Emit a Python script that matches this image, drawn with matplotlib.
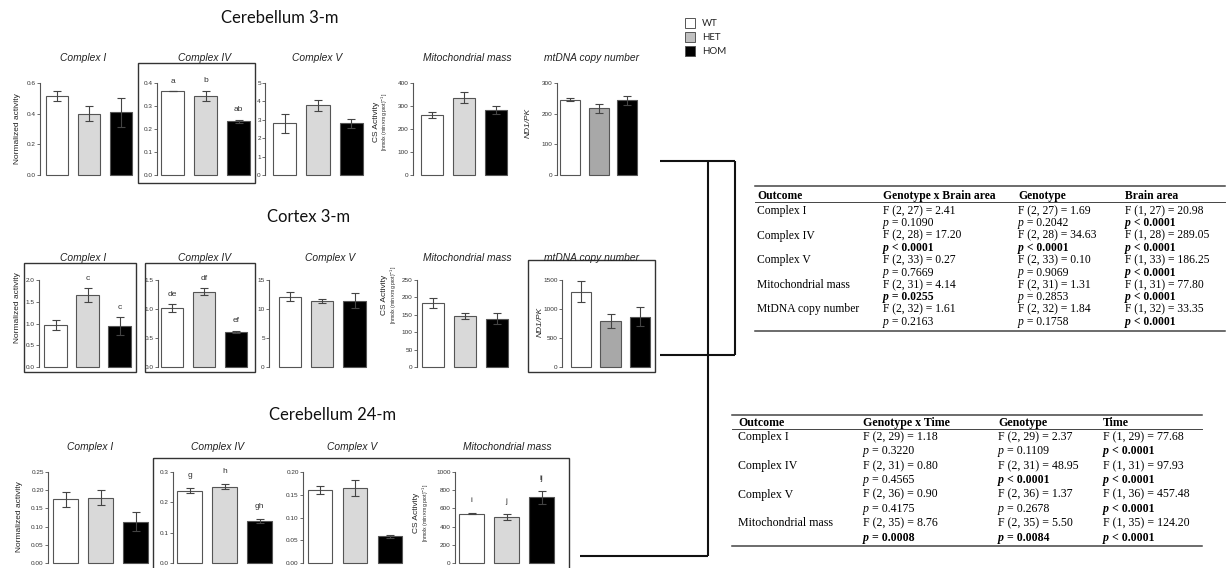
import matplotlib
matplotlib.use("Agg")
import matplotlib.pyplot as plt
from matplotlib.patches import Rectangle

W, H = 1227, 568

genotypes = ["WT", "HET", "HOM"]
bar_colors = ["#ffffff", "#d9d9d9", "#000000"]
bar_colors_dna = ["#ffffff", "#a8a8a8", "#000000"]

# ---------------- Cerebellum 3-m ----------------
cb3_titles = ["Complex I", "Complex IV", "Complex V", "Mitochondrial mass", "mtDNA copy number"]
cb3_means = [[0.515, 0.40, 0.41], [0.365, 0.345, 0.234], [2.8, 3.8, 2.8], [261, 336, 282], [246, 217, 244]]
cb3_errs = [[0.035, 0.05, 0.095], [0.0, 0.022, 0.007], [0.5, 0.3, 0.25], [15, 25, 17], [5, 16, 15]]
cb3_letters = [None, ["a", "b", "ab"], None, None, None]
cb3_ymax = [0.6, 0.4, 5, 400, 300]
cb3_ticks = [[0, 0.2, 0.4, 0.6], [0, 0.1, 0.2, 0.3, 0.4], [0, 1, 2, 3, 4, 5],
             [0, 100, 200, 300, 400], [0, 100, 200, 300]]
cb3_tick_labels = [["0.0", "0.2", "0.4", "0.6"], ["0.0", "0.1", "0.2", "0.3", "0.4"],
                   ["0", "1", "2", "3", "4", "5"], ["0", "100", "200", "300", "400"],
                   ["0", "100", "200", "300"]]

# ---------------- Cortex 3-m ----------------
cx3_titles = ["Complex I", "Complex IV", "Complex V", "Mitochondrial mass", "mtDNA copy number"]
cx3_means = [[0.96, 1.65, 0.94], [1.01, 1.30, 0.607], [12.1, 11.4, 11.4], [183, 146, 139], [1300, 790, 870]]
cx3_errs = [[0.11, 0.16, 0.2], [0.07, 0.06, 0.02], [0.8, 0.3, 1.3], [14, 9, 16], [180, 120, 160]]
cx3_letters = [[None, "c", "c"], ["de", "df", "ef"], None, None, None]
cx3_ymax = [2.0, 1.5, 15, 250, 1500]
cx3_ticks = [[0, 0.5, 1.0, 1.5, 2.0], [0, 0.5, 1.0, 1.5], [0, 5, 10, 15],
             [0, 50, 100, 150, 200, 250], [0, 500, 1000, 1500]]
cx3_tick_labels = [["0.0", "0.5", "1.0", "1.5", "2.0"], ["0.0", "0.5", "1.0", "1.5"],
                   ["0", "5", "10", "15"], ["0", "50", "100", "150", "200", "250"],
                   ["0", "500", "1000", "1500"]]

# ---------------- Cerebellum 24-m ----------------
cb24_titles = ["Complex I", "Complex IV", "Complex V", "Mitochondrial mass"]
cb24_means = [[0.175, 0.179, 0.114], [0.238, 0.251, 0.138], [0.160, 0.165, 0.059], [541, 505, 722]]
cb24_errs = [[0.02, 0.021, 0.025], [0.008, 0.008, 0.007], [0.009, 0.017, 0.003], [8, 36, 70]]
cb24_letters = [None, ["g", "h", "gh"], None, ["i", "j", "ij"]]
cb24_ymax = [0.25, 0.3, 0.2, 1000]
cb24_ticks = [[0, 0.05, 0.10, 0.15, 0.20, 0.25], [0, 0.1, 0.2, 0.3],
              [0, 0.05, 0.10, 0.15, 0.20], [0, 200, 400, 600, 800, 1000]]
cb24_tick_labels = [["0.00", "0.05", "0.10", "0.15", "0.20", "0.25"], ["0.0", "0.1", "0.2", "0.3"],
                    ["0.00", "0.05", "0.10", "0.15", "0.20"], ["0", "200", "400", "600", "800", "1000"]]

# ---------------- Tables ----------------
t1_header = ["Outcome", "Genotype x Brain area", "Genotype", "Brain area"]
t1_outcomes = ["Complex I", "Complex IV", "Complex V", "Mitochondrial mass", "MtDNA copy number"]
t1_inter_F = ["F (2, 27) = 2.41", "F (2, 28) = 17.20", "F (2, 33) = 0.27", "F (2, 31) = 4.14", "F (2, 32) = 1.61"]
t1_inter_p = ["= 0.1090", "< 0.0001", "= 0.7669", "= 0.0255", "= 0.2163"]
t1_geno_F = ["F (2, 27) = 1.69", "F (2, 28) = 34.63", "F (2, 33) = 0.10", "F (2, 31) = 1.31", "F (2, 32) = 1.84"]
t1_geno_p = ["= 0.2042", "< 0.0001", "= 0.9069", "= 0.2853", "= 0.1758"]
t1_area_F = ["F (1, 27) = 20.98", "F (1, 28) = 289.05", "F (1, 33) = 186.25", "F (1, 31) = 77.80", "F (1, 32) = 33.35"]
t1_area_p = ["< 0.0001", "< 0.0001", "< 0.0001", "< 0.0001", "< 0.0001"]

t2_header = ["Outcome", "Genotype x Time", "Genotype", "Time"]
t2_outcomes = ["Complex I", "Complex IV", "Complex V", "Mitochondrial mass"]
t2_inter_F = ["F (2, 29) = 1.18", "F (2, 31) = 0.80", "F (2, 36) = 0.90", "F (2, 35) = 8.76"]
t2_inter_p = ["= 0.3220", "= 0.4565", "= 0.4175", "= 0.0008"]
t2_geno_F = ["F (2, 29) = 2.37", "F (2, 31) = 48.95", "F (2, 36) = 1.37", "F (2, 35) = 5.50"]
t2_geno_p = ["= 0.1109", "< 0.0001", "= 0.2678", "= 0.0084"]
t2_time_F = ["F (1, 29) = 77.68", "F (1, 31) = 97.93", "F (1, 36) = 457.48", "F (1, 35) = 124.20"]
t2_time_p = ["< 0.0001", "< 0.0001", "< 0.0001", "< 0.0001"]

SANS = ["Liberation Sans", "DejaVu Sans"]
CAL = ["Lato", "DejaVu Sans"]
SERIF = ["Liberation Serif", "DejaVu Serif"]

fig = plt.figure(figsize=(W / 100, H / 100), dpi=100)
fig.patch.set_facecolor("white")

# overlay in pixel coordinates for annotations
ov = fig.add_axes([0, 0, 1, 1], zorder=10)
ov.set_xlim(0, W)
ov.set_ylim(H, 0)
ov.axis("off")
ov.patch.set_alpha(0)


def draw_panel(ax_x, y_zero, y_top, pitch, first, ymax, ticks, tlabels, means, errs,
               colors, letters=None, letter_pad=4.5):
    right = ax_x + first + 2 * pitch + 0.45 * pitch
    ax = fig.add_axes([ax_x / W, 1 - y_zero / H, (right - ax_x) / W, (y_zero - y_top) / H])
    ax.set_xlim(-first / pitch, (right - ax_x - first) / pitch)
    ax.set_ylim(0, ymax)
    xs = list(range(len(means)))
    ax.bar(xs, means, width=0.69, color=colors, edgecolor="#555555", linewidth=0.8,
           zorder=2, clip_on=False)
    ax.errorbar(xs, means, yerr=errs, fmt="none", ecolor="#444444", elinewidth=0.8,
                capsize=3, capthick=0.8, zorder=3, clip_on=False)
    for s in ["top", "right", "bottom"]:
        ax.spines[s].set_visible(False)
    ax.spines["left"].set_color("#555555")
    ax.spines["left"].set_linewidth(0.8)
    ax.set_xticks([])
    ax.set_yticks(ticks)
    ax.set_yticklabels(tlabels, fontsize=4.6, family=SANS, color="#333333")
    ax.tick_params(axis="y", length=2, width=0.6, color="#555555", pad=1)
    ax.patch.set_alpha(0)
    if letters:
        for x, m, e, l in zip(xs, means, errs, letters):
            if l:
                ax.annotate(l, (x, m + e), xytext=(0, letter_pad), textcoords="offset points",
                            ha="center", va="bottom", fontsize=6, family=SANS, color="#333333")
    return ax


def ptitle(x, y, s):
    ov.text(x, y, s, ha="center", va="center", fontsize=7.4, style="italic", family=SANS, color="#222222")


def big_title(x, y, s):
    ov.text(x, y, s, ha="center", va="center", fontsize=12, family=CAL, color="#111111")


def ylab_norm(x, y):
    ov.text(x, y, "Normalized activity", rotation=90, ha="center", va="center",
            fontsize=6.0, family=SANS, color="#222222")


def ylab_cs(x, y):
    ov.text(x, y, "CS Activity", rotation=90, ha="center", va="center",
            fontsize=6.0, family=SANS, color="#222222")
    ov.text(x + 8.5, y, r"[nmolx (min$\times$mg prot)$^{-1}$]", rotation=90, ha="center", va="center",
            fontsize=3.7, family=SANS, color="#222222")


def ylab_dna(x, y):
    ov.text(x, y, "ND1/PK", rotation=90, ha="center", va="center",
            fontsize=6.0, style="italic", family=SANS, color="#222222")


def box(x0, y0, x1, y1):
    ov.add_patch(Rectangle((x0, y0), x1 - x0, y1 - y0, fill=False, edgecolor="#333333",
                           linewidth=1.0, clip_on=False))


# ---------- Row 1: Cerebellum 3-m ----------
big_title(280, 18, "Cerebellum 3-m")
r1_geom = [(40, 32, 17, 83), (157, 33, 15.5, 205), (265, 33.5, 19.5, 317), (413, 32, 19, 467), (557, 28.7, 13, 592)]
for i, (axx, pitch, first, tx) in enumerate(r1_geom):
    cols = bar_colors_dna if i == 4 else bar_colors
    draw_panel(axx, 175, 83, pitch, first, cb3_ymax[i], cb3_ticks[i], cb3_tick_labels[i],
               cb3_means[i], cb3_errs[i], cols, cb3_letters[i])
    ptitle(tx, 58, cb3_titles[i])
box(138, 63, 255, 183)
ylab_norm(18, 129)
ylab_cs(376, 122)
ylab_dna(528, 123)

# ---------- Row 2: Cortex 3-m ----------
big_title(309, 217, "Cortex 3-m")
r2_geom = [(39, 32, 16.5, 83), (158, 32, 14, 205), (269, 32.3, 21, 330), (417, 32, 16, 467), (562, 29.5, 19, 592)]
for i, (axx, pitch, first, tx) in enumerate(r2_geom):
    cols = bar_colors_dna if i == 4 else bar_colors
    draw_panel(axx, 367, 280, pitch, first, cx3_ymax[i], cx3_ticks[i], cx3_tick_labels[i],
               cx3_means[i], cx3_errs[i], cols, cx3_letters[i])
    ptitle(tx, 258, cx3_titles[i])
box(24, 263, 136, 372)
box(145, 263, 255, 372)
box(528, 260, 655, 372)
ylab_norm(18, 308)
ylab_cs(385, 295)
ylab_dna(540, 322)

# ---------- Row 3: Cerebellum 24-m ----------
big_title(333, 415, "Cerebellum 24-m")
r3_geom = [(48, 35, 17.5, 90), (173, 35, 16.5, 218), (303, 35, 17, 352), (455, 35, 16.5, 507)]
for i, (axx, pitch, first, tx) in enumerate(r3_geom):
    draw_panel(axx, 563, 472, pitch, first, cb24_ymax[i], cb24_ticks[i], cb24_tick_labels[i],
               cb24_means[i], cb24_errs[i], bar_colors, cb24_letters[i], letter_pad=6.5)
    ptitle(tx, 447, cb24_titles[i])
box(153, 458, 569, 580)
ylab_norm(20, 517)
ylab_cs(417, 513)

# ---------- Legend ----------
for i, (g, c) in enumerate(zip(genotypes, ["#ffffff", "#c0c0c0", "#000000"])):
    y = 18 + i * 14
    ov.add_patch(Rectangle((685, y), 10, 10, facecolor=c, edgecolor="#555555", linewidth=0.7))
    ov.text(702, y + 5, g, ha="left", va="center", fontsize=7, family=CAL, color="#222222")

# ---------- Connector lines ----------
lk = dict(color="#111111", linewidth=1.5, solid_capstyle="butt")
ov.plot([660, 735], [161, 161], **lk)
ov.plot([735, 735], [161, 355], **lk)
ov.plot([660, 735], [355, 355], **lk)
ov.plot([708, 708], [161, 556], **lk)
ov.plot([580, 708], [556, 556], **lk)


# ---------- Tables ----------
def table(x_cols, x_rule, y_top, y_head, y_hrule, y_first, step, y_bottom, header, outcomes, cols_F, cols_p, fs):
    ov.plot(x_rule, [y_top, y_top], color="#444444", linewidth=1.1)
    ov.plot(x_rule, [y_hrule, y_hrule], color="#444444", linewidth=0.7)
    ov.plot(x_rule, [y_bottom, y_bottom], color="#444444", linewidth=1.1)
    for x, h in zip(x_cols, header):
        ov.text(x, y_head, h, ha="left", va="center", fontsize=fs, weight="bold", family=SERIF)
    for r, name in enumerate(outcomes):
        yF = y_first + 2 * r * step
        yp = yF + step
        ov.text(x_cols[0], yF, name, ha="left", va="center", fontsize=fs, family=SERIF)
        for c in range(3):
            x = x_cols[c + 1]
            ov.text(x, yF, cols_F[c][r], ha="left", va="center", fontsize=fs, family=SERIF)
            pv = cols_p[c][r]
            bold = pv.startswith("<") or float(pv.split()[-1]) < 0.05
            w = "bold" if bold else "normal"
            ov.text(x, yp, "p", ha="left", va="center", fontsize=fs, family=SERIF,
                    style="italic", weight=w)
            ov.text(x + 6.3, yp, " " + pv, ha="left", va="center", fontsize=fs, family=SERIF, weight=w)


table([757, 883, 1018, 1125], [755, 1225], 186, 196, 202, 211, 12.3, 331,
      t1_header, t1_outcomes, [t1_inter_F, t1_geno_F, t1_area_F], [t1_inter_p, t1_geno_p, t1_area_p], 8.4)
table([738, 863, 998, 1103], [732, 1202], 415, 423, 429, 437, 14.4, 546,
      t2_header, t2_outcomes, [t2_inter_F, t2_geno_F, t2_time_F], [t2_inter_p, t2_geno_p, t2_time_p], 8.6)

fig.savefig("out.png", dpi=100)
